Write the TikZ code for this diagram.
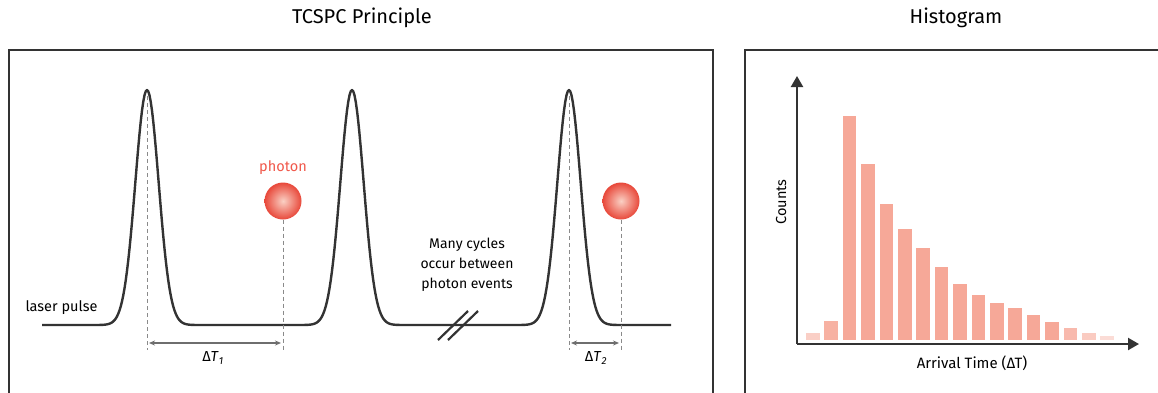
\documentclass[tikz,border=0pt]{standalone}
\usepackage{fontspec}
\setmainfont{Fira Sans}
\usetikzlibrary{arrows.meta}
\definecolor{ink}{HTML}{333333}
\definecolor{dashgray}{HTML}{8A8A8A}
\definecolor{barc}{HTML}{F6A898}
\definecolor{photred}{HTML}{E8483A}
\definecolor{photin}{HTML}{FAD0C4}
\definecolor{phottxt}{HTML}{F0574A}
\tikzset{
  frame/.style={draw=ink, line width=2pt},
  pulse/.style={draw=ink, line width=2.4pt, line join=round},
  guide/.style={draw=dashgray, line width=1pt, dash pattern=on 4pt off 3pt},
  dtarrow/.style={draw=dashgray!80!black, line width=1.2pt, {Stealth[length=6pt,width=5pt]}-{Stealth[length=6pt,width=5pt]}},
  axis/.style={draw=ink, line width=2.2pt, -{Triangle[length=11pt,width=12pt]}},
  photon/.style={circle, minimum size=37pt, inner sep=0pt, shading=radial, inner color=photin, outer color=photred},
  title/.style={font=\fontsize{20}{24}\selectfont, text=black},
  lbl/.style={font=\fontsize{14.5}{17}\selectfont, text=black},
  bar/.style={fill=barc, draw=none},
}
\begin{document}
\begin{tikzpicture}[x=1pt,y=-1pt]
\useasboundingbox (0,0) rectangle (1158,392);
% frames
\draw[frame] (9,50) rectangle (713,420);
\draw[frame] (745,50) rectangle (1175,420);
% titles
\node[title] (t1) at (362,18) {TCSPC Principle};
\node[title] (t2) at (956,18) {Histogram};
% pulse train
\draw[pulse] (42,325) -- (97,325)
  -- plot[domain=97:197, samples=81] (\x, {325-235*exp(-((\x-147)/16.5)^2)})
  -- (302,325)
  -- plot[domain=302:402, samples=81] (\x, {325-235*exp(-((\x-352)/16.5)^2)})
  -- (519,325)
  -- plot[domain=519:619, samples=81] (\x, {325-235*exp(-((\x-569)/16.5)^2)})
  -- (671,325);
% break marks
\draw[ink, line width=2.2pt] (438,340) -- (468,311);
\draw[ink, line width=2.2pt] (448,340) -- (478,311);
% peak coordinates
\coordinate (pk1) at (147,96);
\coordinate (pk3) at (569,96);
\coordinate (pk1b) at (147,350);
\coordinate (pk3b) at (569,350);
% photons
\node[photon] (p1) at (283,201) {};
\node[photon] (p2) at (621,201) {};
\node[lbl, text=phottxt] (plab) at (283,168) {photon};
\coordinate (p1b) at (283,350);
\coordinate (p2b) at (621,350);
\draw[guide] (pk1) -- (pk1b);
\draw[guide] (pk3) -- (pk3b);
\draw[guide] (p1.south) -- (p1b);
\draw[guide] (p2.south) -- (p2b);
% Delta T arrows
\coordinate (a1l) at (149,343);
\coordinate (a1r) at (281,343);
\coordinate (a2l) at (571,343);
\coordinate (a2r) at (619,343);
\draw[dtarrow] (a1l) -- (a1r);
\draw[dtarrow] (a2l) -- (a2r);
\node[lbl] (dt1) at (213,358) {Δ\textit{T}\textsubscript{\textit{1}}};
\node[lbl] (dt2) at (596,358) {Δ\textit{T}\textsubscript{\textit{2}}};
% labels
\node[lbl, anchor=west] (lp) at (22,308) {laser pulse};
\node[lbl, align=center, font=\fontsize{14}{20}\selectfont] (many) at (467,265) {Many cycles\\occur between\\photon events};
% histogram axes
\coordinate (org) at (797,344);
\coordinate (ytip) at (797,76);
\coordinate (xtip) at (1139,344);
% bars
\foreach \i/\t/\o in {0/332.7/0.55, 1/321/0.9, 2/116/1, 3/164.3/1, 4/204.3/1, 5/228.7/1, 6/247.7/1, 7/266.7/1, 8/284.3/1, 9/295/1, 10/303.3/1, 11/307.7/1, 12/315/1, 13/322.3/1, 14/328.3/0.8, 15/332.7/0.6, 16/336/0.4}{
  \fill[bar, fill opacity=\o] ({812.7+18.4*\i-6.8},\t) rectangle ({812.7+18.4*\i+6.8},340);
}
\draw[axis] (org) -- (ytip);
\draw[axis] (org) -- (xtip);
\node[lbl, rotate=90] (cnt) at (781,202) {Counts};
\node[lbl, font=\fontsize{15}{18}\selectfont] (arr) at (972,363) {Arrival Time (ΔT)};
\end{tikzpicture}
\end{document}
